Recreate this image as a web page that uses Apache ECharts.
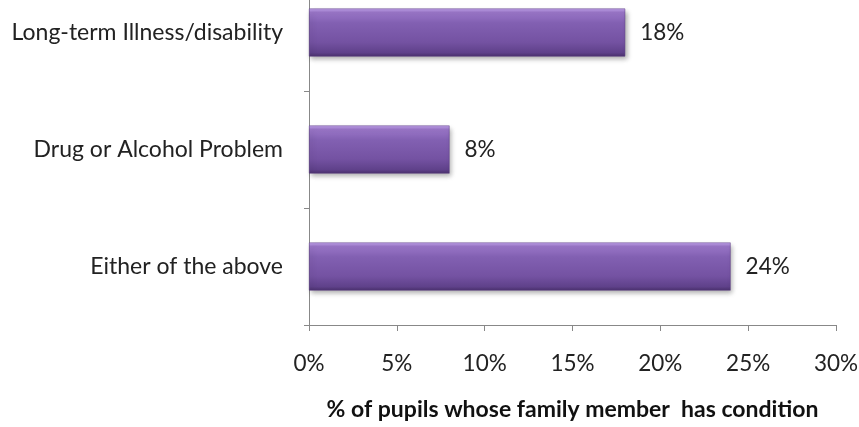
<!DOCTYPE html>
<html>
<head>
<meta charset="utf-8">
<script src="https://cdn.jsdelivr.net/npm/echarts@6/dist/echarts.min.js"></script>
<style>html,body{margin:0;padding:0;background:#fff}#c{width:859px;height:427px}</style>
</head>
<body>
<div id="c"></div>
<script>
const categories = ["Long-term Illness/disability", "Drug or Alcohol Problem", "Either of the above"];
const values = [18, 8, 24];
const xTicks = [0, 5, 10, 15, 20, 25, 30];
const axisTitle = "% of pupils whose family member  has condition";

const FONT = "Lato";
const chart = echarts.init(document.getElementById('c'), null, {renderer: 'canvas'});
const barColor = new echarts.graphic.LinearGradient(0, 0, 0, 1, [
  {offset: 0, color: '#c4a6ee'},
  {offset: 0.08, color: '#9a76c8'},
  {offset: 0.3, color: '#8260b2'},
  {offset: 0.7, color: '#7452a2'},
  {offset: 0.92, color: '#5f418a'},
  {offset: 1, color: '#4a316c'}
]);
chart.setOption({
  animation: false,
  grid: {left: 309, right: 23, top: -26, bottom: 102, containLabel: false, outerBoundsMode: 'none'},
  xAxis: {
    type: 'value', min: xTicks[0], max: xTicks[xTicks.length - 1], interval: 5,
    axisLine: {show: true, lineStyle: {color: '#888', width: 1}},
    axisTick: {show: true, length: 6, lineStyle: {color: '#888'}},
    splitLine: {show: false},
    axisLabel: {formatter: v => v + '%', fontFamily: FONT, fontSize: 22.5, color: '#222', margin: 27},
    name: axisTitle, nameLocation: 'middle', nameGap: 73,
    nameTextStyle: {fontFamily: FONT, fontSize: 23, fontWeight: 'bold', color: '#111'}
  },
  yAxis: {
    type: 'category', data: categories, inverse: true,
    axisLine: {show: true, lineStyle: {color: '#888', width: 1}},
    axisTick: {show: true, length: 5, lineStyle: {color: '#888'}},
    axisLabel: {fontFamily: FONT, fontSize: 23, color: '#222', margin: 26}
  },
  series: [{
    type: 'bar', data: values, barWidth: 48,
    itemStyle: {color: barColor, borderColor: '#5a3d80', borderWidth: 0.5,
      shadowColor: 'rgba(0,0,0,0.35)', shadowBlur: 5, shadowOffsetX: 2, shadowOffsetY: 3},
    label: {show: true, position: 'right', distance: 15, formatter: p => p.value + '%',
      fontFamily: FONT, fontSize: 22.5, color: '#222'}
  }]
});
</script>
</body>
</html>
